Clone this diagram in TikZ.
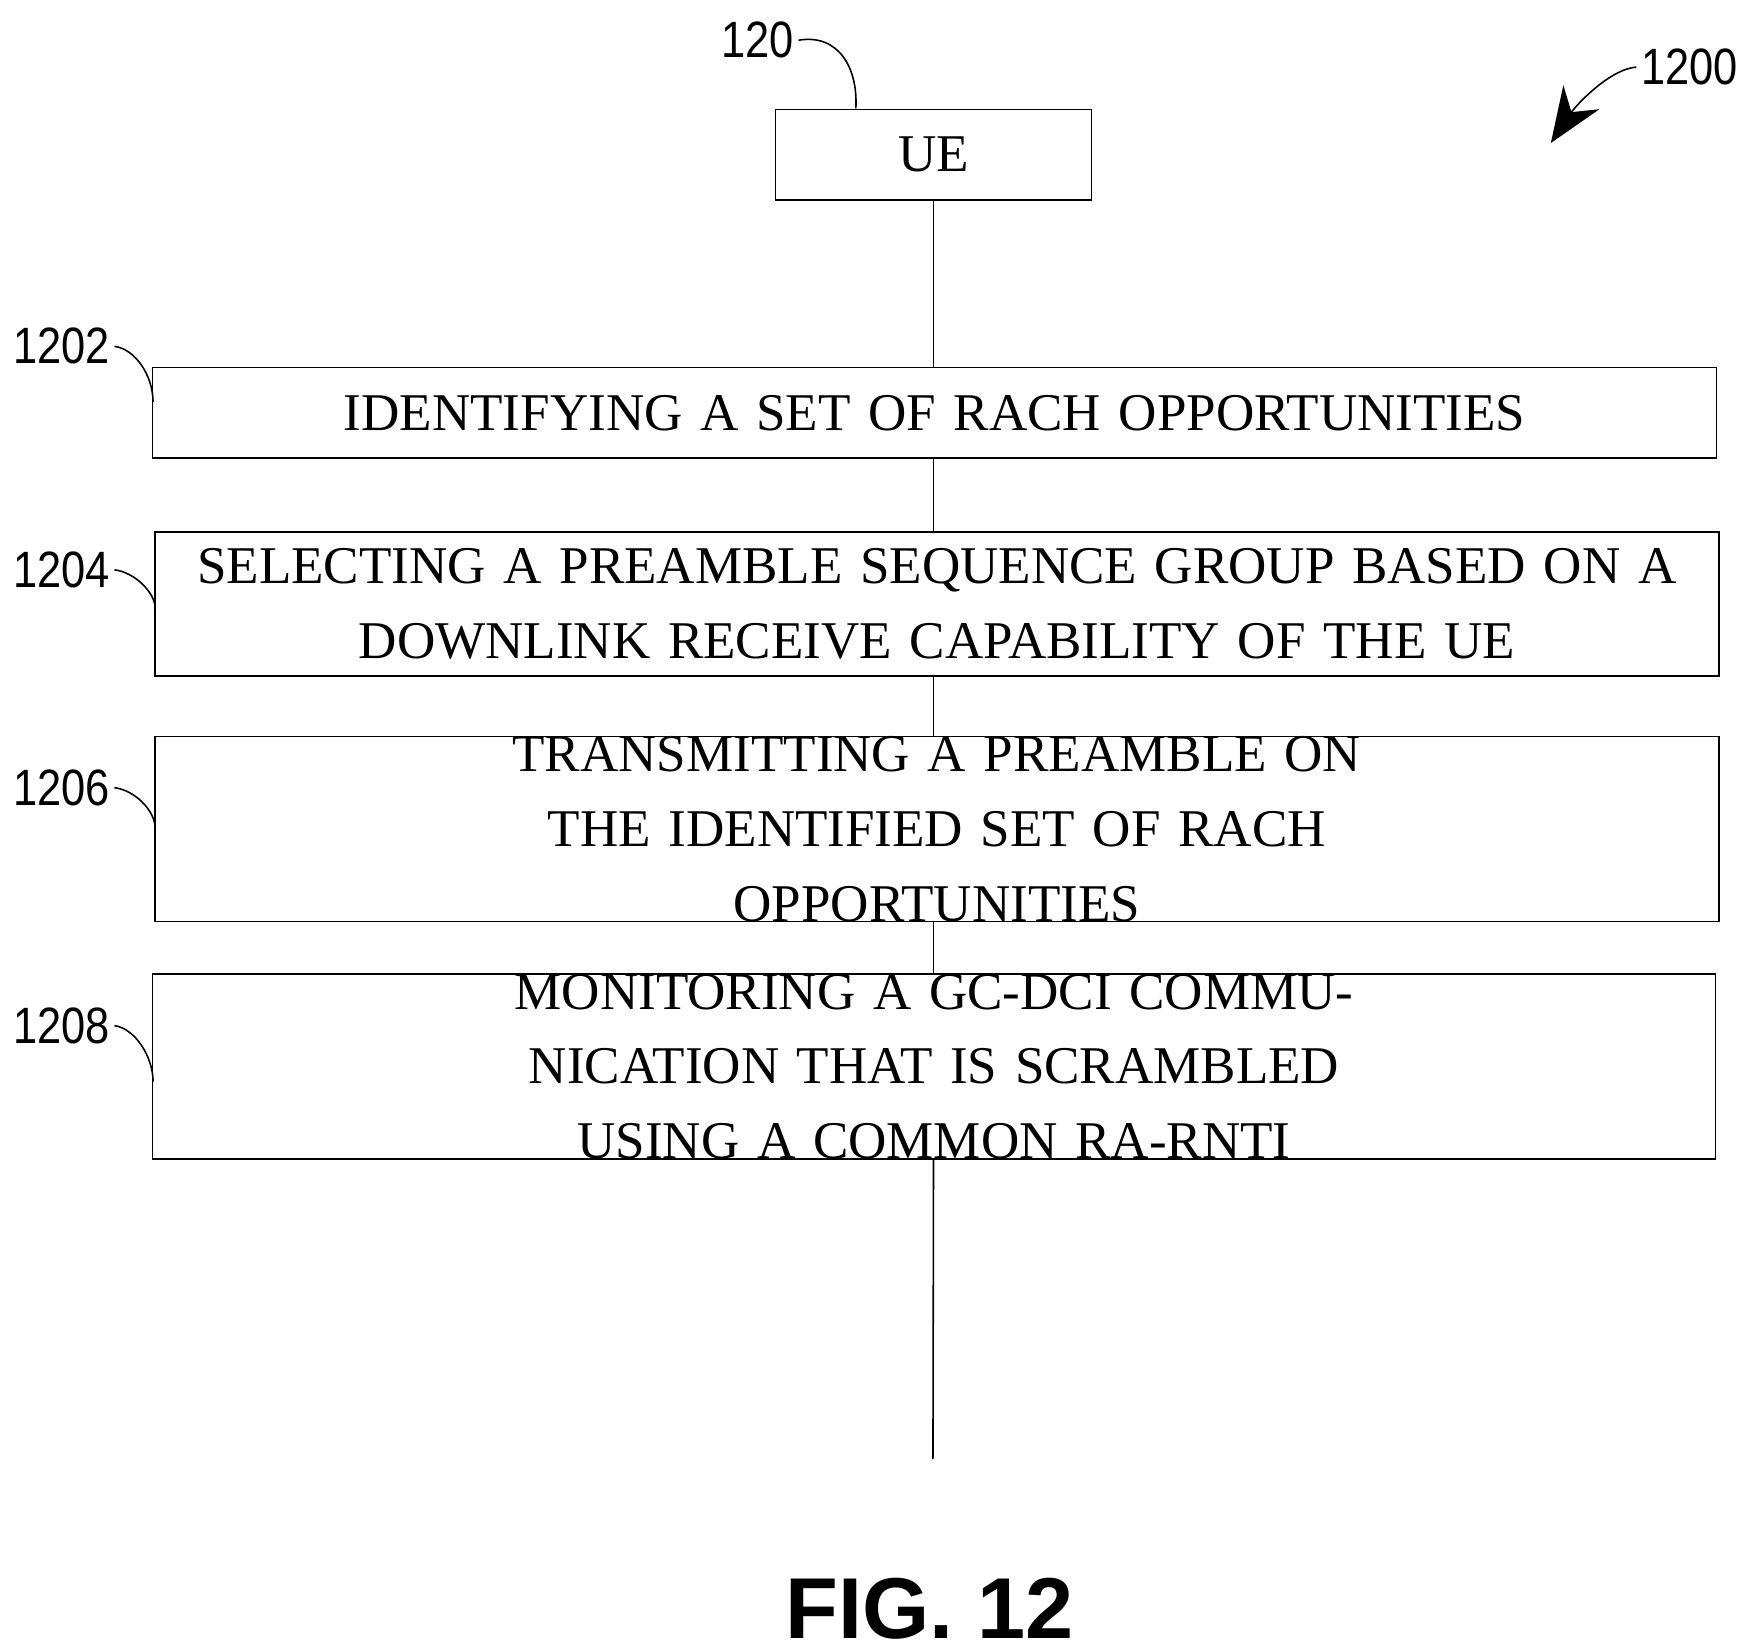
\documentclass[tikz,border=0pt]{standalone}
\usepackage{fontspec}
\setmainfont{Liberation Serif}
\newfontfamily\labelfont[FakeStretch=0.85]{Liberation Sans}
\newfontfamily\figfont{Liberation Sans}
\usetikzlibrary{arrows.meta}
\begin{document}
\begin{tikzpicture}
[x=0.01cm,y=-0.01cm,thin,
stepbox/.style={draw,fill=white,align=center,inner sep=0pt,font=\fontsize{13.5}{19}\selectfont},
ref/.style={font=\labelfont\fontsize{13}{15}\selectfont,inner sep=1pt}]
\useasboundingbox (0,0) rectangle (1560,1472);
\node[stepbox, text width=2.83cm, minimum height=0.81cm] (ue) at (835.5,138.5) {UE};
\node[stepbox, text width=13.99cm, minimum height=0.81cm] (s1) at (836.5,369.5) {IDENTIFYING A SET OF RACH OPPORTUNITIES};
\node[stepbox, text width=13.99cm, minimum height=1.29cm] (s2) at (838.5,540.5) {SELECTING A PREAMBLE SEQUENCE GROUP BASED ON A\\ DOWNLINK RECEIVE CAPABILITY OF THE UE};
\node[stepbox, text width=13.99cm, minimum height=1.56cm] (s3) at (838.5,742) {TRANSMITTING A PREAMBLE ON THE IDENTIFIED SET OF RACH\\ OPPORTUNITIES};
\node[stepbox, text width=13.98cm, minimum height=1.47cm] (s4) at (836,954.5) {MONITORING A GC-DCI COMMUNICATION THAT IS SCRAMBLED\\ USING A COMMON RA-RNTI};
\coordinate (end) at (835,1306);
% lifeline
\draw (ue.south) -- (ue.south |- s1.north);
\draw (ue.south |- s1.south) -- (ue.south |- s2.north);
\draw (ue.south |- s2.south) -- (ue.south |- s3.north);
\draw (ue.south |- s3.south) -- (ue.south |- s4.north);
\draw (ue.south |- s4.south) -- (end);
% reference numerals
\node[ref] (r120) at (678,36) {120};
\draw (r120.east) .. controls (750,30) and (768,60) .. (766,97);
\node[ref] (r1200) at (1512,60) {1200};
\draw[-{Stealth[length=14pt,width=11pt]}] (r1200.west) .. controls (1440,62) and (1410,95) .. (1388,128);
\node[ref] (r1202) at (55,310) {1202};
\draw (r1202.east) .. controls (120,312) and (137,335) .. (137,360);
\node[ref] (r1204) at (55,510) {1204};
\draw (r1204.east) .. controls (120,512) and (139,530) .. (139,545);
\node[ref] (r1206) at (55,705) {1206};
\draw (r1206.east) .. controls (120,707) and (139,725) .. (139,742);
\node[ref] (r1208) at (55,918) {1208};
\draw (r1208.east) .. controls (120,920) and (137,945) .. (137,968);
\node[font=\figfont\bfseries\fontsize{22}{26}\selectfont] (fig) at (832,1440) {FIG. 12};
\end{tikzpicture}
\end{document}
